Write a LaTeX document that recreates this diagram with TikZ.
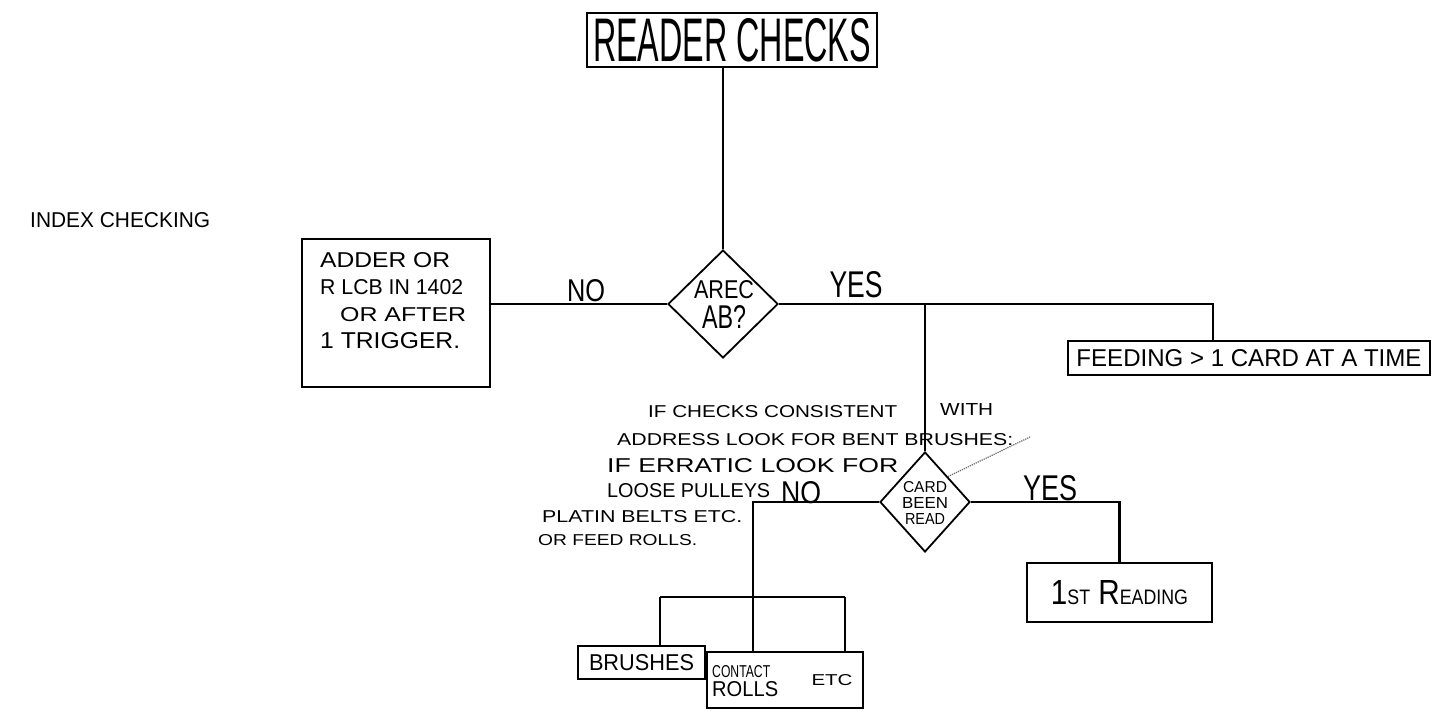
\documentclass[tikz,border=0pt]{standalone}
\usepackage{fontspec}
\setmainfont{Liberation Sans}
\usepackage{graphicx}
\usetikzlibrary{shapes.geometric}
\newcommand{\hw}[3]{\resizebox{#1}{#2}{#3}}
\begin{document}
\begin{tikzpicture}[x=1pt,y=-1pt,
  box/.style={draw, line width=1.8pt, rectangle, inner sep=0pt},
  dia/.style={draw, line width=1.8pt, shape=diamond, inner sep=0pt},
  wire/.style={line width=2.2pt},
  thinwire/.style={line width=1.4pt},
  txt/.style={inner sep=0pt},
  line/.style={anchor=base west, inner sep=0pt}]
\fill[white] (0,0) rectangle (1436,710);
\useasboundingbox (0,0) rectangle (1436,710);

% boxes and decisions
\node[box, minimum width=290pt, minimum height=54pt] (reader) at (732,40) {\hw{278pt}{43pt}{READER CHECKS}};
\node[dia, minimum width=110pt, minimum height=108pt] (d1) at (723,304) {};
\node[txt, align=center, font=\fontsize{18}{30}\selectfont] (d1t) at (724,304) {\hw{60pt}{18pt}{AREC}\\\hw{44pt}{23pt}{AB?}};

\node[box, minimum width=188pt, minimum height=148pt] (adder) at (396,313) {};
\node[txt, anchor=north west, align=left, font=\fontsize{20}{27}\selectfont] (addert) at (320,252)
  {\hw{130pt}{15pt}{ADDER OR}\\\hw{143pt}{15pt}{R LCB IN 1402}\\\hspace{20pt}\hw{126pt}{14pt}{OR AFTER}\\\hw{140pt}{16pt}{1 TRIGGER.}};

\node[txt] (no1) at (586,291) {\hw{38pt}{22pt}{NO}};
\node[txt] (yes1) at (856,285) {\hw{53pt}{26pt}{YES}};

\node[box, minimum width=362pt, minimum height=34pt] (feed) at (1249,358) {\hw{345pt}{17pt}{FEEDING > 1 CARD AT A TIME}};

\node[dia, minimum width=90pt, minimum height=100pt] (d2) at (925,502) {};
\node[txt, align=center, font=\fontsize{11}{16}\selectfont] (d2t) at (925,503) {\hw{44pt}{11pt}{CARD}\\\hw{46pt}{11pt}{BEEN}\\\hw{40pt}{11pt}{READ}};

\node[txt] (yes2) at (1050,488) {\hw{54pt}{25pt}{YES}};
\node[txt] (no2) at (801,493) {\hw{40pt}{22pt}{NO}};

\node[box, minimum width=185pt, minimum height=59pt] (read) at (1119.5,592.5) {\hw{137pt}{24pt}{1\scalebox{0.6}{ST} R\scalebox{0.6}{EADING}}};

\node[box, minimum width=127pt, minimum height=33pt] (brush) at (641.5,662.5) {\hw{105pt}{16pt}{BRUSHES}};
\node[box, minimum width=156pt, minimum height=56pt] (contact) at (785,680) {};
\node[txt, anchor=north west, align=left, font=\fontsize{12}{19}\selectfont] (contactt) at (712,665) {\hw{58pt}{12pt}{CONTACT}\\\hw{66pt}{15pt}{ROLLS}};
\node[txt] (etc) at (832,680) {\hw{41pt}{11pt}{ETC}};

% annotation
\node[line] (n1) at (648,417) {\hw{249pt}{12pt}{IF CHECKS CONSISTENT}};
\node[line] (n1b) at (940,415) {\hw{53pt}{12pt}{WITH}};
\node[line] (n2) at (617,445) {\hw{396pt}{12pt}{ADDRESS LOOK FOR BENT BRUSHES:}};
\node[line] (n3) at (607,472) {\hw{291pt}{14pt}{IF ERRATIC LOOK FOR}};
\node[line] (n4) at (607,497) {\hw{163pt}{14pt}{LOOSE PULLEYS}};
\node[line] (n5) at (542,522) {\hw{200pt}{12pt}{PLATIN BELTS ETC.}};
\node[line] (n6) at (538,545) {\hw{159pt}{11pt}{OR FEED ROLLS.}};
\node[line] (idx) at (30,227) {\hw{180pt}{15pt}{INDEX CHECKING}};

% connectors
\draw[wire] (reader.south -| d1.north) -- (d1.north);
\draw[wire] (d1.west) -- (d1.west -| adder.east);
\coordinate (fY) at (1213,341);
\draw[wire] (d1.east) -| (fY);
\draw[thinwire] (d1.east -| d2.north) -- (d2.north);
\draw[wire] (d2.east) -| (read.north);
\coordinate (nb) at (753,597);
\coordinate (bl) at (660,597);
\coordinate (br) at (845,597);
\draw[wire] (d2.west) -| (nb);
\draw[thinwire] (bl) -- (br);
\draw[thinwire] (bl) -- (bl |- brush.north);
\draw[thinwire] (nb) -- (nb |- contact.north);
\draw[thinwire] (br) -- (br |- contact.north);
\coordinate (dt) at (1030,437);
\draw[densely dotted, line width=1.2pt, black!60] (d2.north east) -- (dt);
\end{tikzpicture}
\end{document}
